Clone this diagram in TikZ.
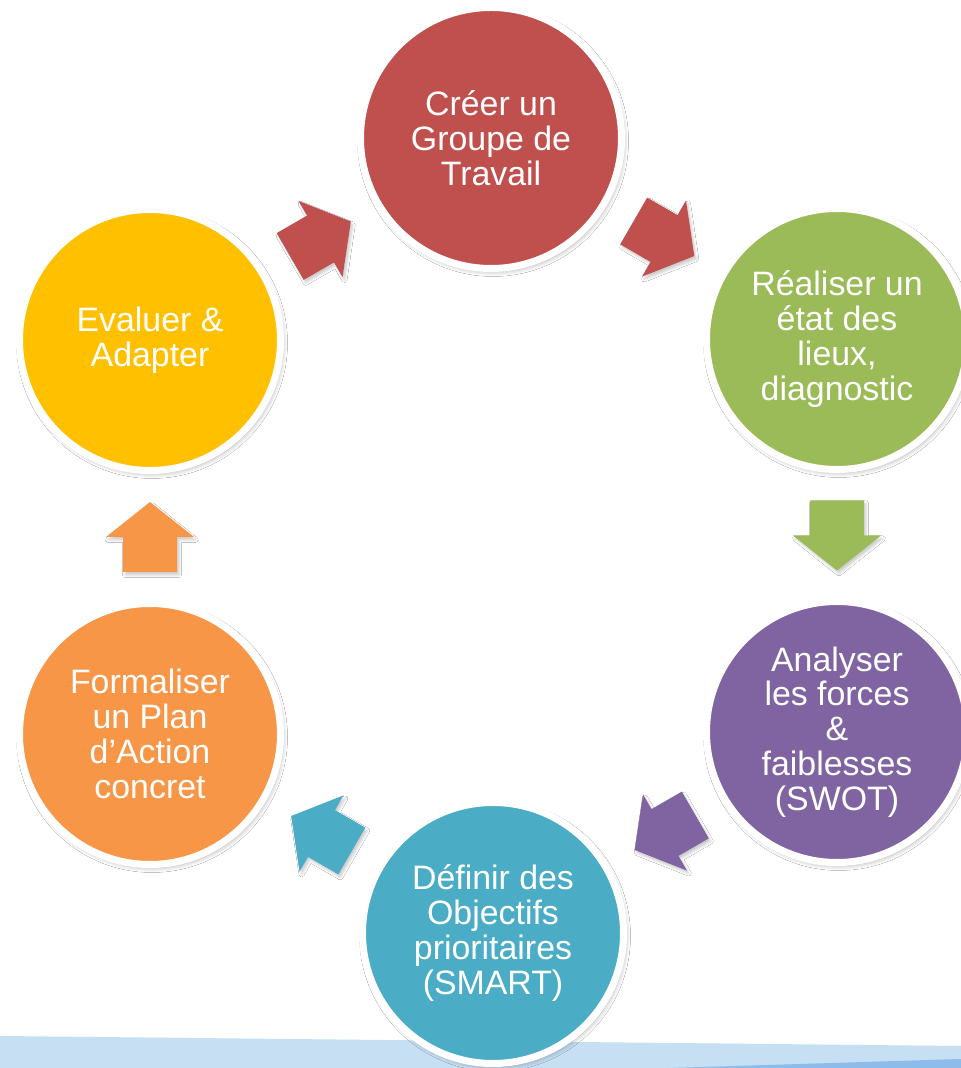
\documentclass[tikz,border=0pt]{standalone}
\usepackage{fontspec}
\setmainfont{Liberation Sans}
\usetikzlibrary{calc,shadows,shadows.blur}
\definecolor{cred}{HTML}{C0504D}
\definecolor{cgreen}{HTML}{9BBB59}
\definecolor{cpurple}{HTML}{8064A2}
\definecolor{cteal}{HTML}{4BACC6}
\definecolor{corange}{HTML}{F79646}
\definecolor{cyellow}{HTML}{FFC000}
\definecolor{bandlight}{HTML}{C6DFF3}
\definecolor{banddark}{HTML}{8DBCEA}
\tikzset{
  stepcircle/.style={circle, minimum size=261bp, inner sep=0pt, draw=white, line width=7bp,
    text=white, align=center, font=\fontsize{34}{35}\selectfont,
    blur shadow={shadow xshift=2bp, shadow yshift=-3bp, shadow blur radius=5bp, shadow opacity=35}},
  blockarrow/.pic={
    \fill[blur shadow={shadow xshift=2bp, shadow yshift=-3bp, shadow blur radius=2.5bp, shadow opacity=20}]
      (-35,-27) -- (0,-27) -- (0,-44) -- (35,0) -- (0,44) -- (0,27) -- (-35,27) -- cycle;
  }
}
\begin{document}
\begin{tikzpicture}[x=1bp,y=1bp]
\clip (0,0) rectangle (961,1068);
\fill[white] (0,0) rectangle (961,1068);
% bottom band
\fill[bandlight] (0,0) -- (0,32) -- (961,22) -- (961,0) -- cycle;
\fill[banddark] (670,0) -- (961,9) -- (961,0) -- cycle;
% circles
\node[stepcircle, fill=cred]    (c1) at (491,930) {Créer un\\Groupe de\\Travail};
\node[stepcircle, fill=cgreen]  (c2) at (837,729) {Réaliser un\\état des\\lieux,\\diagnostic};
\node[stepcircle, fill=cpurple] (c3) at (837,336) {Analyser\\les forces\\\&\\faiblesses\\(SWOT)};
\node[stepcircle, fill=cteal]   (c4) at (493,135) {Définir des\\Objectifs\\prioritaires\\(SMART)};
\node[stepcircle, fill=corange] (c5) at (150,334) {Formaliser\\un Plan\\d’Action\\concret};
\node[stepcircle, fill=cyellow] (c6) at (150,728) {Evaluer \&\\Adapter};
% block arrows
\pic[fill=cred, rotate=30]     at ($(c6)!0.5!(c1)$) {blockarrow};
\pic[fill=cred, rotate=-30]    at ($(c1)!0.5!(c2)$) {blockarrow};
\pic[fill=cgreen, rotate=-90]  at ($(c2)!0.5!(c3)$) {blockarrow};
\pic[fill=cpurple, rotate=210] at ($(c3)!0.5!(c4)$) {blockarrow};
\pic[fill=cteal, rotate=150]   at ($(c4)!0.5!(c5)$) {blockarrow};
\pic[fill=corange, rotate=90]  at ($(c5)!0.5!(c6)$) {blockarrow};
\end{tikzpicture}
\end{document}
